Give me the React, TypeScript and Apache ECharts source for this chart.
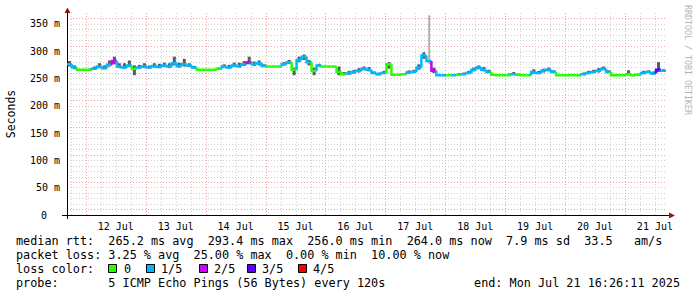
import React, { useEffect, useRef } from "react";
import * as echarts from "echarts";

// ---- data ----
const START = Date.UTC(2025, 6, 11, 16, 26, 11);
const END = Date.UTC(2025, 6, 21, 16, 26, 11);
const STEP_HOURS = 2;

const medianMs = [
  276, 270, 266, 266, 266, 268, 272, 269, 275, 282,
  272, 270, 274, 268, 270, 272, 270, 273, 271, 274,
  272, 278, 273, 276, 274, 270, 266, 266, 266, 266,
  268, 272, 270, 274, 273, 276, 280, 276, 278, 273,
  272, 272, 272, 276, 280, 266, 284, 290, 280, 264,
  274, 272, 272, 272, 262, 258, 259, 262, 264, 268,
  266, 260, 258, 260, 276, 257, 257, 258, 261, 262,
  270, 292, 282, 264, 256, 256, 256, 256, 257, 258,
  260, 266, 270, 266, 262, 257, 256, 256, 256, 258,
  257, 256, 256, 262, 260, 264, 266, 262, 256, 256,
  256, 256, 256, 258, 260, 262, 264, 268, 262, 256,
  256, 256, 258, 256, 257, 260, 262, 259, 266, 264,
];

// lost pings out of 5 per step
const lossCount = [
  1, 1, 0, 0, 0, 1, 1, 1, 1, 2,
  1, 1, 1, 0, 1, 1, 1, 1, 1, 1,
  1, 1, 1, 1, 1, 1, 0, 0, 0, 0,
  0, 1, 1, 1, 1, 1, 2, 1, 1, 1,
  0, 0, 0, 1, 1, 0, 1, 1, 1, 0,
  1, 0, 0, 0, 0, 0, 1, 1, 1, 1,
  1, 1, 1, 1, 0, 0, 0, 0, 1, 1,
  1, 1, 1, 2, 1, 1, 0, 1, 0, 1,
  1, 1, 1, 1, 1, 0, 0, 0, 0, 1,
  0, 0, 0, 1, 1, 1, 1, 1, 0, 0,
  0, 0, 0, 1, 1, 1, 1, 1, 1, 0,
  0, 0, 0, 0, 0, 1, 1, 1, 3, 1,
];

// smoke spread above the median (ms)
const smokeUp = [
  6, 4, 0, 0, 2, 4, 6, 5, 8, 8,
  6, 8, 9, 6, 5, 6, 4, 5, 6, 5,
  6, 12, 6, 10, 4, 3, 0, 0, 0, 0,
  2, 4, 5, 5, 6, 6, 10, 5, 5, 3,
  0, 0, 0, 4, 4, 4, 6, 4, 4, 6,
  3, 1, 0, 0, 10, 4, 5, 4, 5, 4,
  5, 3, 3, 4, 4, 0, 0, 2, 4, 4,
  6, 6, 84, 6, 0, 0, 0, 0, 3, 3,
  4, 4, 4, 5, 4, 0, 0, 0, 3, 4,
  2, 0, 0, 5, 4, 4, 4, 3, 0, 0,
  0, 0, 0, 3, 4, 4, 5, 4, 3, 0,
  0, 0, 7, 0, 2, 4, 3, 4, 14, 3,
];

// smoke spread below the median (ms)
const smokeDown = [
  4, 3, 0, 0, 0, 2, 3, 2, 3, 6,
  3, 2, 3, 12, 2, 3, 2, 3, 2, 3,
  3, 4, 3, 4, 3, 2, 0, 0, 0, 0,
  0, 2, 2, 3, 3, 3, 4, 3, 4, 2,
  0, 0, 0, 2, 3, 10, 4, 6, 6, 8,
  2, 0, 0, 0, 6, 2, 2, 3, 3, 3,
  3, 2, 2, 2, 8, 0, 0, 0, 2, 2,
  4, 6, 6, 4, 0, 0, 0, 0, 0, 1,
  2, 3, 3, 3, 2, 0, 0, 0, 0, 1,
  0, 0, 0, 3, 2, 3, 3, 2, 0, 0,
  0, 0, 0, 1, 2, 2, 3, 3, 2, 0,
  0, 0, 2, 0, 0, 2, 2, 2, 4, 2,
];

const lossLabels = ["0", "1/5", "2/5", "3/5", "4/5"];
const lossColors = ["#26ff00", "#00b8ff", "#cc00ff", "#5a00ff", "#ff0000"];

const statLines = [
  "median rtt:  265.2 ms avg  293.4 ms max  256.0 ms min  264.0 ms now  7.9 ms sd  33.5   am/s",
  "packet loss: 3.25 % avg  25.00 % max  0.00 % min  10.00 % now",
];
const probeLine = "probe:       5 ICMP Echo Pings (56 Bytes) every 120s";
const endLine = "end: Mon Jul 21 16:26:11 2025";
const watermark = "RRDTOOL / TOBI OETIKER";

const MONO = '"DejaVu Sans Mono", monospace';
const HOUR = 3600 * 1000;

// vertical grid: every 6 hours (midnights drawn in red)
const FIRST_GRID = Date.UTC(2025, 6, 11, 18, 0, 0);
const GRID_STEP_HOURS = 6;

export default function App() {
  const ref = useRef<HTMLDivElement>(null);
  useEffect(() => {
    if (!ref.current) return;
    const chart = echarts.init(ref.current, null, { renderer: "svg" });

    const rows = medianMs.map((m, i) => {
      const t0 = START + i * STEP_HOURS * HOUR;
      const t1 = t0 + STEP_HOURS * HOUR;
      const prev = i > 0 ? medianMs[i - 1] : m;
      return [t0, t1, m, prev, lossCount[i], m - smokeDown[i], m + smokeUp[i]];
    });

    const gridTimes: number[][] = [];
    for (let t = FIRST_GRID; t < END; t += GRID_STEP_HOURS * HOUR) {
      gridTimes.push([t, new Date(t).getUTCHours() === 0 ? 1 : 0]);
    }

    const legendBoxX = [108, 146, 199, 247, 298];
    const legendTextX = [124, 161, 214, 262, 313];
    const FONT = `11.8px ${MONO}`;

    const graphics: any[] = [];
    statLines.forEach((t, k) => {
      graphics.push({
        type: "text",
        x: 16,
        y: 241 + k * 14,
        style: { text: t, fill: "#000", font: FONT, verticalAlign: "middle", align: "left" },
      });
    });
    graphics.push({
      type: "text",
      x: 16,
      y: 269,
      style: { text: "loss color:", fill: "#000", font: FONT, verticalAlign: "middle" },
    });
    lossLabels.forEach((lab, k) => {
      graphics.push({
        type: "rect",
        shape: { x: legendBoxX[k] + 0.5, y: 264.5, width: 8, height: 8 },
        style: { fill: lossColors[k], stroke: "#000", lineWidth: 1 },
      });
      graphics.push({
        type: "text",
        x: legendTextX[k],
        y: 269,
        style: { text: lab, fill: "#000", font: FONT, verticalAlign: "middle" },
      });
    });
    graphics.push({
      type: "text",
      x: 16,
      y: 283,
      style: { text: probeLine, fill: "#000", font: FONT, verticalAlign: "middle" },
    });
    graphics.push({
      type: "text",
      x: 680,
      y: 283,
      style: { text: endLine, fill: "#000", font: FONT, verticalAlign: "middle", align: "right" },
    });
    graphics.push({
      type: "text",
      x: 687.5,
      y: 60,
      rotation: -Math.PI / 2,
      style: { text: watermark, fill: "#b4b4b4", font: `8.3px ${MONO}`, verticalAlign: "middle", align: "center" },
    });
    // axis extensions and arrows
    graphics.push({ type: "line", shape: { x1: 62, y1: 215.5, x2: 670, y2: 215.5 }, style: { stroke: "#000", lineWidth: 1 } });
    graphics.push({ type: "line", shape: { x1: 67.5, y1: 10, x2: 67.5, y2: 219 }, style: { stroke: "#000", lineWidth: 1 } });
    graphics.push({ type: "polygon", shape: { points: [[67.5, 7.5], [64.5, 13], [70.5, 13]] }, style: { fill: "#8b1c1c" } });
    graphics.push({ type: "polygon", shape: { points: [[675, 215.5], [669, 212.5], [669, 218.5]] }, style: { fill: "#8b1c1c" } });

    const option: any = {
      animation: false,
      useUTC: true,
      backgroundColor: "#fff",
      grid: { left: 67, right: 31, top: 13, bottom: 82, containLabel: false, outerBoundsMode: "none" },
      xAxis: {
        type: "time",
        min: START,
        max: END,
        minInterval: 6 * HOUR,
        maxInterval: 6 * HOUR,
        splitNumber: 40,
        axisLine: { show: true, lineStyle: { color: "#000" } },
        axisTick: { show: false },
        axisLabel: {
          formatter: (v: number) => {
            const d = new Date(v);
            return d.getUTCHours() === 12 && d.getUTCMinutes() === 0 ? `${d.getUTCDate()} Jul` : "";
          },
          fontFamily: MONO,
          fontSize: 10,
          color: "#000",
          margin: 6,
          hideOverlap: false,
          showMinLabel: false,
          showMaxLabel: false,
        },
        splitLine: { show: false },
      },
      yAxis: {
        type: "value",
        min: 0,
        max: 370,
        interval: 10,
        name: "Seconds",
        nameLocation: "middle",
        nameRotate: 90,
        nameGap: 50,
        nameTextStyle: { fontFamily: MONO, fontSize: 11.5, color: "#000" },
        axisLine: { show: true, lineStyle: { color: "#000" } },
        axisTick: { show: false },
        axisLabel: {
          formatter: (v: number) => (v % 50 !== 0 ? "" : v === 0 ? "{z|0}" : `${v} m`),
          fontFamily: MONO,
          fontSize: 10,
          color: "#000",
          margin: 7,
          rich: { z: { fontFamily: MONO, fontSize: 10, color: "#000", padding: [0, 13, 0, 0] } },
        },
        splitLine: {
          show: true,
          showMinLine: false,
          showMaxLine: false,
          lineStyle: { color: ["#f0a0a0", "#d0d0d0", "#d0d0d0", "#d0d0d0", "#d0d0d0"], type: [1, 2], width: 1 },
        },
      },
      series: [
        {
          type: "custom",
          name: "vgrid",
          silent: true,
          clip: true,
          data: gridTimes,
          encode: { x: 0 },
          renderItem: (_p: any, api: any) => {
            const t = api.value(0);
            const a = api.coord([t, 0]);
            const b = api.coord([t, 370]);
            const x = Math.round(a[0]) + 0.5;
            return {
              type: "line",
              shape: { x1: x, y1: b[1], x2: x, y2: a[1] },
              style: { stroke: api.value(1) ? "#f0a0a0" : "#d0d0d0", lineWidth: 1, lineDash: [1, 2] },
            };
          },
        },
        {
          type: "custom",
          name: "smoke",
          clip: true,
          data: rows,
          encode: { x: [0, 1], y: [5, 6] },
          renderItem: (_p: any, api: any) => {
            const tm = (api.value(0) + api.value(1)) / 2;
            const top = api.coord([tm, api.value(6)]);
            const bot = api.coord([tm, api.value(5)]);
            if (bot[1] - top[1] < 0.5) return null;
            const tall = bot[1] - top[1] > 20;
            return {
              type: "rect",
              shape: { x: top[0] - (tall ? 0.5 : 1.5), y: top[1], width: tall ? 1.5 : 3, height: bot[1] - top[1] },
              style: { fill: tall ? "#8a8a8a" : "#333", opacity: 0.8 },
            };
          },
        },
        {
          type: "custom",
          name: "median",
          clip: true,
          data: rows,
          encode: { x: [0, 1], y: [2, 3] },
          renderItem: (_p: any, api: any) => {
            const a = api.coord([api.value(0), api.value(3)]);
            const b = api.coord([api.value(0), api.value(2)]);
            const c = api.coord([api.value(1), api.value(2)]);
            return {
              type: "polyline",
              shape: { points: [a, b, c] },
              style: { stroke: lossColors[api.value(4)], lineWidth: 2.5, fill: "none" },
            };
          },
        },
      ],
      graphic: graphics,
    };
    chart.setOption(option);
    return () => chart.dispose();
  }, []);
  return (
    <div
      ref={ref}
      style={{ position: "fixed", left: 0, top: 0, width: 697, height: 297, background: "#fff" }}
    />
  );
}
